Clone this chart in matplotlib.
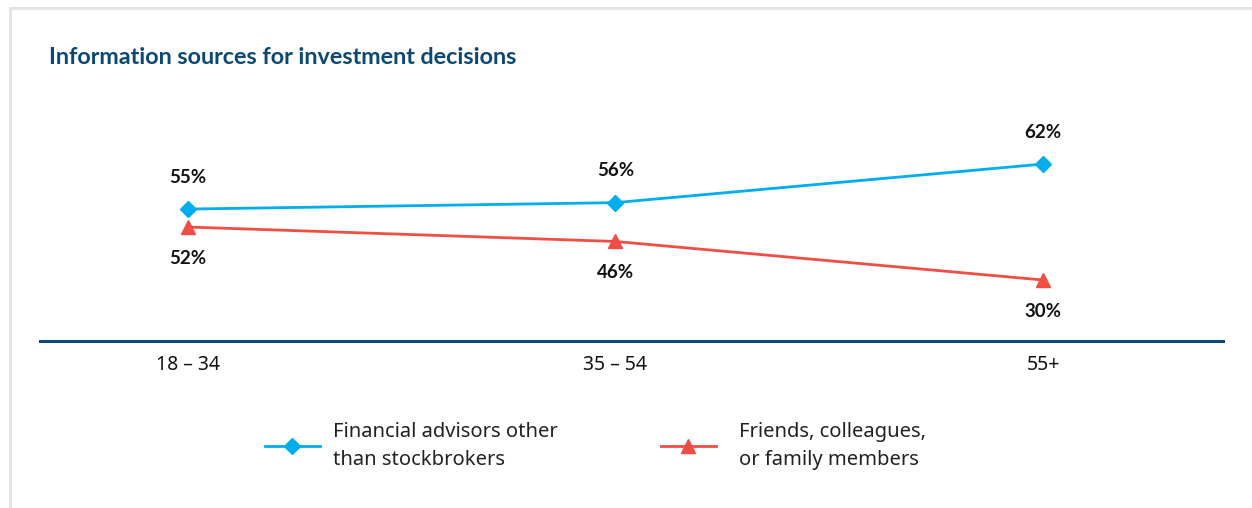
import numpy as np
import matplotlib.pyplot as plt
from matplotlib.patches import Rectangle

plt.rcParams['font.family'] = ['Noto Sans', 'DejaVu Sans']

age_groups = ['18 – 34', '35 – 54', '55+']
advisors = [55, 56, 62]
friends = [52, 46, 30]
series_names = ['Financial advisors other\nthan stockbrokers',
                'Friends, colleagues,\nor family members']

blue = '#00aeef'
red = '#f04e45'
navy = '#0b4873'
bold_font = ['Lato', 'DejaVu Sans']

W, H = 1252, 508
fig = plt.figure(figsize=(W / 100, H / 100), dpi=100)

# light frame at the left and top
fig.add_artist(Rectangle((10 / W, -0.2), 2, 1.2 - 8 / H, transform=fig.transFigure,
                         fill=False, ec='#e3e3e3', lw=2.2))

ax = fig.add_axes([40 / W, 1 - 341 / H, 1183 / W, 241 / H])
ax2 = ax.twinx()

x = np.arange(len(age_groups))
l1, = ax.plot(x, advisors, color=blue, lw=2, marker='D', ms=8, zorder=3)
l2, = ax2.plot(x, friends, color=red, lw=2, marker='^', ms=10, zorder=3)

ax.set_xlim(-0.346, 2.421)
ax.set_ylim(34.5, 71.95)
ax2.set_ylim(4.7, 104.7)

for a in (ax, ax2):
    for s in ['top', 'right', 'left']:
        a.spines[s].set_visible(False)
    a.set_yticks([])
ax2.spines['bottom'].set_visible(False)
ax.spines['bottom'].set_color(navy)
ax.spines['bottom'].set_linewidth(2.2)

ax.set_xticks(x)
ax.set_xticklabels(age_groups, fontsize=14, color='#111111')
ax.tick_params(axis='x', length=0, pad=10)

for xi, v in zip(x, advisors):
    ax.annotate(f'{v}%', (xi, v), xytext=(0, 23), textcoords='offset points',
                ha='center', va='center', fontsize=13.5, fontweight='bold',
                color='#111111', family=bold_font)
for xi, v in zip(x, friends):
    ax2.annotate(f'{v}%', (xi, v), xytext=(0, -22.5), textcoords='offset points',
                 ha='center', va='center', fontsize=13.5, fontweight='bold',
                 color='#111111', family=bold_font)

fig.text(49 / W, 1 - 58 / H, 'Information sources for investment decisions',
         fontsize=16.8, fontweight='bold', color=navy, va='center', ha='left',
         family=bold_font)

for handle, name, x0, pad in [(l1, series_names[0], 265, 0.65),
                              (l2, series_names[1], 661, 1.14)]:
    leg = fig.legend([handle], [name], loc='center left', bbox_to_anchor=(x0 / W, 1 - 446 / H),
                     frameon=False, fontsize=14.5, handlelength=2.73, handletextpad=pad,
                     borderpad=0, borderaxespad=0, labelcolor='#222222')
    for t in leg.get_texts():
        t.set_linespacing(1.52)

fig.savefig('out.png', dpi=100)
